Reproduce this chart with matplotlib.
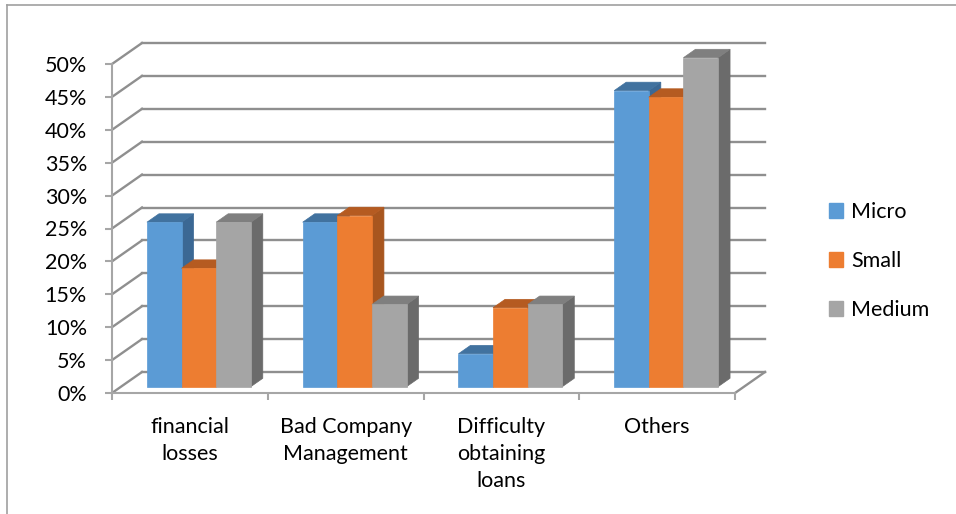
import matplotlib
matplotlib.use("Agg")
import matplotlib.pyplot as plt
from matplotlib.patches import Polygon, Patch
from matplotlib.lines import Line2D
from matplotlib.ticker import PercentFormatter

plt.rcParams['font.family'] = ['Lato', 'DejaVu Sans']

categories = ["financial\nlosses", "Bad Company\nManagement", "Difficulty\nobtaining\nloans", "Others"]
series = ["Micro", "Small", "Medium"]
micro = [0.25, 0.25, 0.05, 0.45]
small = [0.18, 0.26, 0.12, 0.44]
medium = [0.25, 0.125, 0.125, 0.50]
yticks = [0, 0.05, 0.10, 0.15, 0.20, 0.25, 0.30, 0.35, 0.40, 0.45, 0.50]

# front, side, top shades per series
front_cols = ["#5b9bd5", "#ed7d31", "#a5a5a5"]
side_cols = ["#3b6894", "#a8561f", "#6b6b6b"]
top_cols = ["#41729f", "#b55b21", "#7f7f7f"]
grid_col = "#8f8f8f"
axis_col = "#a6a6a6"
fs = 15.5

W, H = 956, 514
fig = plt.figure(figsize=(W / 100, H / 100), dpi=100)

# front plane of the plot box, in pixels
x0, x1, y0, y1 = 112, 735, 393, 64
ax = fig.add_axes([x0 / W, (H - y0) / H, (x1 - x0) / W, (y0 - y1) / H])
ax.set_xlim(0, len(categories))
ax.set_ylim(0, 0.5)
ax.patch.set_alpha(0)

# oblique depth: full depth shifts 30 px right and 21 px up
px_per_x = (x1 - x0) / len(categories)
px_per_y = (y0 - y1) / 0.5
kx, ky = 30 / px_per_x, 21 / px_per_y


def proj(x, y, d):
    return (x + d * kx, y + d * ky)


# back wall and side wall gridlines
for v in yticks:
    bx, by = zip(proj(0, v, 1), proj(len(categories), v, 1))
    ax.plot(bx, by, color=grid_col, lw=1.7, clip_on=False, zorder=1)
    sx, sy = zip(proj(0, v, 0), proj(0, v, 1))
    ax.plot(sx, sy, color=grid_col, lw=1.7, clip_on=False, zorder=1)
fx, fy = zip(proj(len(categories), 0, 0), proj(len(categories), 0, 1))
ax.plot(fx, fy, color=grid_col, lw=1.7, clip_on=False, zorder=1)

# 3D columns
bar_w = 1 / (len(series) + 1.5)
d0, d1 = 0.3, 0.7
for i in range(len(categories)):
    start = i + 0.75 * bar_w
    for j, vals in enumerate([micro, small, medium]):
        L = start + j * bar_w
        R = L + bar_w
        h = vals[i]
        front = [proj(L, 0, d0), proj(R, 0, d0), proj(R, h, d0), proj(L, h, d0)]
        side = [proj(R, 0, d0), proj(R, 0, d1), proj(R, h, d1), proj(R, h, d0)]
        top = [proj(L, h, d0), proj(R, h, d0), proj(R, h, d1), proj(L, h, d1)]
        for poly, col in [(side, side_cols[j]), (top, top_cols[j]), (front, front_cols[j])]:
            ax.add_patch(Polygon(poly, closed=True, facecolor=col, edgecolor=col,
                                 lw=0.5, clip_on=False, zorder=3))

# axes lines and ticks
for s in ["top", "right"]:
    ax.spines[s].set_visible(False)
for s in ["left", "bottom"]:
    ax.spines[s].set_color(axis_col)
    ax.spines[s].set_linewidth(1.5)
ax.set_yticks(yticks)
ax.yaxis.set_major_formatter(PercentFormatter(1.0, decimals=0))
ax.tick_params(axis="y", length=5, width=1.5, color=axis_col, pad=13, labelsize=fs)
ax.set_xticks(range(len(categories) + 1))
ax.set_xticklabels([])
ax.tick_params(axis="x", which="major", length=5, width=1.5, color=axis_col)
ax.set_xticks([i + 0.5 for i in range(len(categories))], minor=True)
ax.set_xticklabels(categories, minor=True, linespacing=1.45)
ax.tick_params(axis="x", which="minor", length=0, pad=17, labelsize=fs)

handles = [Patch(facecolor=c, edgecolor=c) for c in front_cols]
ax.legend(handles, series, loc="center left", bbox_to_anchor=(810 / W, 1 - 261 / H),
          bbox_transform=fig.transFigure, frameon=False, fontsize=fs,
          handlelength=0.65, handleheight=0.65, handletextpad=0.35, labelspacing=1.35)

# chart area border (top and left edges)
fig.add_artist(Line2D([7 / W, 7 / W], [0, 1 - 5 / H], color="#a0a0a0", lw=1.2))
fig.add_artist(Line2D([7 / W, 1], [1 - 5 / H, 1 - 5 / H], color="#a0a0a0", lw=1.2))

fig.savefig("out.png", dpi=100)
